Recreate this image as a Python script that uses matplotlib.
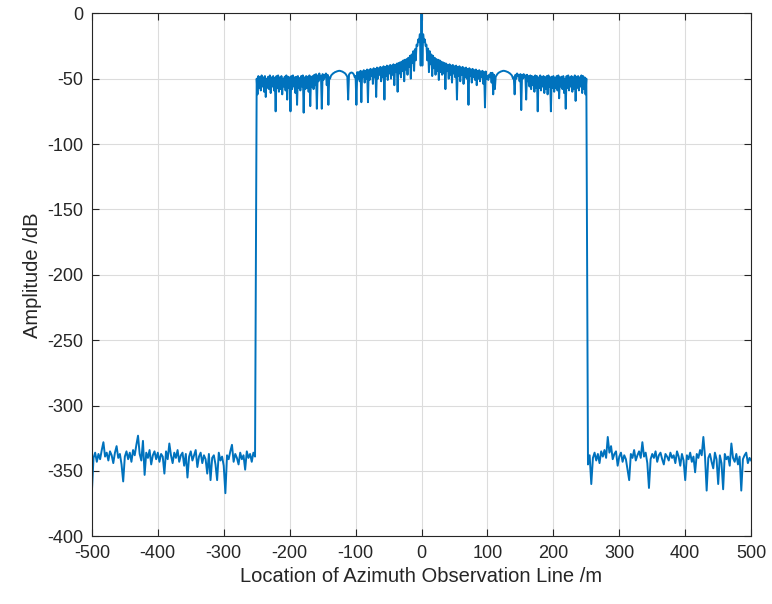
import matplotlib.pyplot as plt
import numpy as np

# left noise floor, x = -500 ... -252.5 step 2.5 (dB)
floor_left = [
    -366, -340, -336, -343, -337, -341, -334, -328, -339, -336,
    -342, -335, -338, -344, -336, -331, -340, -337, -345, -358,
    -339, -335, -341, -336, -343, -334, -338, -330, -323, -337,
    -342, -327, -353, -336, -340, -334, -345, -338, -335, -341,
    -336, -343, -337, -339, -352, -335, -341, -329, -338, -344,
    -336, -340, -334, -343, -338, -336, -346, -337, -355, -339,
    -335, -342, -338, -334, -347, -339, -336, -344, -338, -341,
    -352, -337, -357, -340, -338, -345, -357, -336, -342, -339,
    -346, -367, -338, -341, -335, -330, -343, -337, -340, -345,
    -336, -341, -338, -349, -335, -340, -337, -343, -336, -339,
]

# main region upper samples, x = -250 ... 250 step 2.5
main_top = [
    -50, -48, -49, -47.5, -49, -48, -50, -48.5, -47.5, -49,
    -48, -49.5, -48, -47.5, -49, -48, -50, -48.5, -47.5, -48.5,
    -49, -48, -47.5, -49, -48.5, -48, -49.5, -48, -47.5, -49,
    -48, -48.5, -47.5, -48.5, -48, -47, -46.5, -47.5, -46, -48,
    -46.5, -47, -46, -47, -49, -48, -46.5, -45.5, -44.8, -44.3,
    -44, -44.2, -44.6, -45.3, -46.5, -48.5, -47, -45.5, -45.5, -47,
    -48, -45, -45, -44, -44.5, -43.5, -44, -43, -43.5, -42.5,
    -43, -42, -42.5, -41.5, -42, -41, -41.5, -40.5, -41, -40,
    -40.5, -39.5, -40, -39, -39.5, -38.5, -38, -37.5, -37, -36,
    -35.5, -35, -34, -32.5, -31.5, -29, -27.5, -24, -20, -16,
    0,
    -16, -20, -24, -27, -29, -31.5, -32.5, -34, -35, -35.5,
    -36, -37, -37.5, -38, -38.5, -39.5, -39, -40, -39.5, -40.5,
    -40, -41, -40.5, -41.5, -41, -42, -41.5, -42.5, -42, -43,
    -42.5, -43.5, -43, -44, -43.5, -44.5, -44, -45, -44.5, -48,
    -47, -45.5, -45.5, -47, -48.5, -46.5, -45.3, -44.6, -44.2, -44,
    -44.3, -44.8, -45.5, -46.5, -48, -49, -47, -46, -47, -46.5,
    -47, -46.5, -47.5, -47, -48, -47.5, -48, -48.5, -47.5, -48,
    -49, -47.5, -48.5, -48, -49, -48, -47.5, -49, -48.5, -48,
    -49.5, -48, -47.5, -49, -48.5, -48, -50, -48, -47.5, -49,
    -48, -49, -47.5, -48.5, -48, -49, -47.5, -48, -49, -50,
]

# main region lower samples, x = -248.75 ... 248.75 step 2.5
main_low = [
    -62, -57, -59, -56, -60, -64, -57, -58, -61, -56,
    -59, -75, -57, -60, -58, -62, -56, -59, -66, -57,
    -75, -58, -56, -61, -70, -57, -59, -56, -76, -58,
    -57, -60, -71, -56, -58, -55, -73, -52, -50, -73,
    -51, -49, -55, -70, -50, -47, -45.8, -45, -44.5, -44.1,
    -44, -44.4, -45, -45.8, -47.5, -66, -46, -45.3, -46, -49,
    -70, -50, -52, -68, -49, -53, -50, -68, -51, -48,
    -54, -49, -64, -50, -47, -52, -49, -66, -48, -51,
    -46, -50, -47, -55, -45, -60, -46, -49, -44, -52,
    -43, -47, -41, -50, -38, -44, -36, -25, -22, -40,
    -40, -22, -25, -36, -45, -39, -48, -42, -47, -44,
    -51, -45, -47, -46, -58, -44, -50, -47, -53, -46,
    -49, -66, -48, -52, -47, -54, -49, -50, -70, -48,
    -53, -49, -51, -55, -50, -52, -49, -54, -72, -50,
    -51, -49, -53, -62, -58, -47.5, -45.8, -45, -44.4, -44,
    -44.1, -44.5, -45, -45.8, -47, -50, -62, -50, -48, -52,
    -74, -50, -49, -66, -52, -56, -58, -55, -60, -57,
    -75, -57, -59, -56, -61, -58, -62, -56, -75, -57,
    -60, -57, -59, -65, -56, -58, -61, -73, -57, -59,
    -56, -60, -58, -67, -57, -59, -56, -61, -58, -62,
]

# right noise floor, x = 252.5 ... 500 step 2.5
floor_right = [
    -345, -338, -360, -340, -336, -342, -337, -344, -335, -339,
    -334, -340, -324, -336, -331, -341, -337, -335, -346, -339,
    -336, -343, -338, -341, -349, -357, -337, -340, -334, -342,
    -338, -335, -340, -328, -339, -336, -344, -363, -341, -337,
    -340, -335, -343, -338, -336, -341, -345, -337, -339, -342,
    -336, -340, -338, -344, -335, -339, -346, -337, -342, -357,
    -338, -341, -336, -343, -339, -351, -337, -340, -334, -338,
    -324, -339, -365, -340, -337, -343, -348, -336, -341, -360,
    -338, -344, -364, -337, -341, -339, -346, -329, -340, -343,
    -337, -345, -339, -365, -341, -338, -336, -344, -340, -342,
]

x_left = np.arange(len(floor_left)) * 2.5 - 500
x_top = np.arange(len(main_top)) * 2.5 - 250
x_low = np.arange(len(main_low)) * 2.5 - 248.75
x_right = np.arange(len(floor_right)) * 2.5 + 252.5

# interleave upper / lower samples of the main region
x_main = np.empty(len(x_top) + len(x_low))
y_main = np.empty_like(x_main)
x_main[0::2] = x_top
y_main[0::2] = main_top
x_main[1::2] = x_low
y_main[1::2] = main_low

x = np.concatenate([x_left, x_main, x_right])
y = np.concatenate([floor_left, y_main, floor_right])

plt.rcParams['font.family'] = ['Liberation Sans', 'DejaVu Sans']
plt.rcParams['axes.unicode_minus'] = False

fig = plt.figure(figsize=(7.72, 6.04), dpi=100)
ax = fig.add_axes([0.119, 0.112, 0.854, 0.866])
ax.plot(x, y, color='#0072BD', linewidth=1.4)

ax.set_xlim(-500, 500)
ax.set_ylim(-400, 0)
ax.set_xticks(np.arange(-500, 501, 100))
ax.set_yticks(np.arange(-400, 1, 50))
ax.grid(True, color='#dcdcdc', linewidth=0.8)
ax.set_axisbelow(True)
ax.tick_params(direction='in', top=True, right=True, length=5,
               labelsize=13, colors='#262626', pad=6)
for s in ax.spines.values():
    s.set_color('#262626')
    s.set_linewidth(0.8)

ax.set_xlabel('Location of Azimuth Observation Line /m', fontsize=14.5, color='#262626')
ax.set_ylabel('Amplitude /dB', fontsize=14.5, color='#262626')

fig.savefig('out.png', dpi=100)
